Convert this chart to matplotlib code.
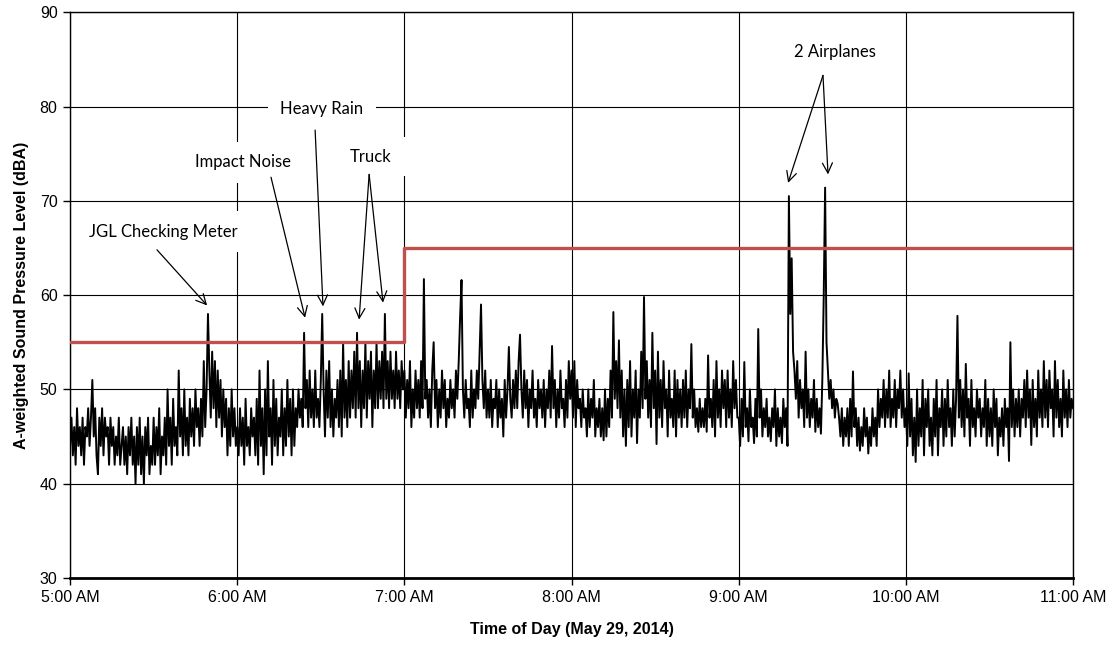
import numpy as np
import matplotlib
matplotlib.use("Agg")
import matplotlib.pyplot as plt
from matplotlib.patches import Rectangle
from matplotlib.ticker import FixedLocator

matplotlib.rcParams["font.family"] = ["Liberation Sans", "DejaVu Sans"]

# A-weighted level, 30-second readings, one list per hour
lvl_5am = [
    44, 47, 43, 46, 42, 48, 44, 46, 43, 47, 42, 46, 45, 48, 44, 47, 51, 45, 48, 43,
    41, 47, 44, 48, 43, 47, 45, 46, 42, 47, 44, 46, 42, 45, 43, 47, 42, 44, 46, 42,
    45, 41, 46, 43, 47, 42, 45, 40, 46, 42, 47, 41, 45, 40, 46, 43, 47, 41, 44, 42,
    47, 42, 46, 43, 48, 41, 45, 43, 47, 42, 50, 44, 47, 42, 49, 44, 46, 43, 52, 45,
    48, 43, 50, 44, 47, 43, 49, 45, 48, 44, 50, 46, 48, 44, 49, 45, 53, 46, 50, 58,
    52, 47, 54, 48, 53, 46, 52, 47, 51, 45, 50, 46, 49, 43, 48, 44, 50, 45, 48, 44,
]
lvl_6am = [
    46, 43, 48, 44, 47, 42, 49, 44, 46, 43, 48, 45, 47, 43, 49, 42, 52, 44, 48, 41,
    50, 43, 53, 45, 48, 42, 51, 44, 49, 43, 47, 45, 50, 43, 48, 44, 51, 45, 49, 43,
    50, 44, 48, 46, 50, 47, 49, 46, 56, 48, 51, 46, 52, 47, 50, 46, 52, 47, 49, 46,
    51, 58, 50, 45, 52, 47, 53, 46, 50, 45, 49, 47, 51, 46, 52, 45, 55, 47, 51, 46,
    53, 47, 52, 48, 54, 47, 56, 48, 53, 46, 52, 48, 55, 47, 53, 49, 54, 46, 52, 48,
    55, 48, 53, 49, 54, 48, 58, 49, 53, 48, 54, 49, 52, 48, 54, 49, 52, 48, 53, 50,
]
lvl_7am = [
    52, 47, 51, 48, 53, 46, 50, 47, 52, 48, 51, 47, 53, 48, 61.7, 49, 51, 47, 50, 46,
    52, 55, 48, 51, 46, 50, 47, 52, 48, 51, 46, 49, 47, 51, 48, 50, 47, 52, 49, 53,
    57.7, 61.6, 50, 47, 51, 48, 49, 46, 52, 47, 50, 48, 52, 49, 54, 59, 51, 48, 52, 47,
    50, 47, 51, 46, 49, 48, 51, 46, 50, 47, 49, 45, 51, 47, 50, 54.5, 49, 47, 51, 48,
    52, 48, 53, 55.8, 50, 47, 52, 48, 51, 46, 50, 48, 52, 47, 49, 46, 51, 48, 50, 47,
    51, 46, 50, 48, 52, 47, 54.6, 48, 51, 46, 50, 47, 52, 48, 49, 46, 51, 47, 53, 49,
]
lvl_8am = [
    52, 47, 53, 46, 51, 48, 49, 46, 50, 47, 48, 45, 50, 46, 49, 47, 51, 45, 48, 46,
    49, 45, 48, 44.6, 50, 45, 49, 46, 52, 47, 58.2, 49, 53, 48, 55.2, 47, 52, 45, 50, 44,
    51, 46, 53, 45, 50, 47, 52, 44.3, 50, 47, 54, 48, 59.8, 49, 53, 47, 51, 46, 56, 48,
    52, 44.2, 54, 47, 51, 46, 53, 48, 50, 45, 52, 47, 49, 46, 52, 45, 51, 47, 50, 46,
    51, 47, 52, 46, 50, 48, 54.8, 47, 50, 46, 48, 45.5, 49, 46, 48, 46, 49, 45.5, 53.6, 47,
    49, 46, 51, 45, 53, 47, 50, 46, 52, 48, 51, 46, 52, 47, 50, 46, 53, 48, 51, 47,
]
lvl_9am = [
    47, 44, 49, 45, 52.9, 46, 48, 44.5, 50, 46, 47, 44.3, 49, 45, 56.4, 47, 50, 45, 48, 46,
    49, 45, 47, 44.5, 48, 46, 50, 44, 48, 45, 47, 44.3, 49, 46, 48, 44, 70.5, 58, 63.9, 54,
    52, 49, 53, 47, 51, 48, 50, 46, 54, 47, 50, 46, 49, 47, 51, 45.5, 49, 46, 48, 45.3,
    51, 59.8, 71.4, 55, 52, 49, 51, 48, 50, 47, 49, 48.5, 47, 45, 48, 44, 47, 45, 48, 44,
    49, 45, 51.9, 46, 48, 44, 47, 43.5, 46, 44, 48, 45, 47, 43.2, 46, 44, 48, 45, 47, 44,
    50, 46, 49, 47, 51, 46, 50, 47, 52, 46, 49, 47, 51, 46, 50, 48, 52, 47, 50, 46,
]
lvl_10am = [
    48, 44, 51.7, 45, 49, 43, 47, 42.3, 50, 44, 48, 45, 51, 43, 49, 46, 50, 44, 47, 43,
    49, 45, 51, 43, 48, 46, 50, 44, 49, 45, 51, 46, 48, 44, 50, 45, 49, 57.8, 47, 51,
    46, 50, 45, 52.7, 47, 49, 44, 51, 46, 48, 45, 50, 47, 49, 45, 48, 46, 51, 44, 49,
    45, 48, 44, 50, 46, 49, 43, 47, 45, 48, 44, 49, 46, 48, 42.4, 55, 46, 50, 45, 49,
    46, 50, 45, 49, 47, 51, 46, 52, 47, 50, 44.1, 51, 46, 49, 45, 52, 47, 50, 46, 53,
    47, 51, 46, 52, 48, 50, 45, 53, 47, 51, 46, 49, 45, 52, 47, 50, 46, 51, 47, 49,
]
lvl_11am = [48]

# daytime noise limit (dBA)
limit_hours = [5, 7, 7, 11]
limit_levels = [55, 55, 65, 65]

hour_ticks = [5, 6, 7, 8, 9, 10, 11]
hour_labels = ["5:00 AM", "6:00 AM", "7:00 AM", "8:00 AM", "9:00 AM", "10:00 AM", "11:00 AM"]

level = np.concatenate([lvl_5am, lvl_6am, lvl_7am, lvl_8am, lvl_9am, lvl_10am, lvl_11am])
hours = 5 + np.arange(len(level)) / 120.0

fig = plt.figure(figsize=(11.12, 6.45), dpi=100)
ax = fig.add_axes([0.063, 0.104, 0.902, 0.877])

ax.plot(hours, level, color="black", lw=1.4, zorder=3)
ax.plot(limit_hours, limit_levels, color="#C0504D", lw=2.4, zorder=4)

ax.set_xlim(5, 11)
ax.set_ylim(30, 90)
ax.xaxis.set_major_locator(FixedLocator(hour_ticks))
ax.set_xticklabels(hour_labels)
ax.set_yticks(range(30, 91, 10))
ax.tick_params(axis="both", labelsize=11.5, length=5, width=1, direction="out", pad=4)
ax.grid(True, color="black", lw=0.8)
ax.set_axisbelow(True)
for side in ["left", "right", "top"]:
    ax.spines[side].set_linewidth(1.0)
ax.spines["bottom"].set_linewidth(2.0)

ax.set_xlabel("Time of Day (May 29, 2014)", fontsize=11.5, fontweight="bold", labelpad=12)
ax.set_ylabel("A-weighted Sound Pressure Level (dBA)", fontsize=11.5, fontweight="bold", labelpad=8)

note_font = dict(family=["Lato", "DejaVu Sans"], fontsize=12, ha="center", va="center",
                 zorder=6, bbox=dict(fc="white", ec="none", pad=9))
arrow = dict(arrowstyle="->", color="black", lw=0.9, mutation_scale=18, shrinkA=0, shrinkB=0)

ax.text(5.556, 66.7, "JGL Checking Meter", **note_font)
ax.annotate("", xy=(5.82, 58.9), xytext=(5.52, 64.8), arrowprops=arrow, zorder=7)

ax.text(6.035, 74.1, "Impact Noise", **note_font)
ax.annotate("", xy=(6.406, 57.6), xytext=(6.202, 72.5), arrowprops=arrow, zorder=7)

ax.text(6.507, 79.7, "Heavy Rain", **note_font)
ax.annotate("", xy=(6.513, 58.8), xytext=(6.466, 77.5), arrowprops=arrow, zorder=7)

# the truck label box is wider than its text and hides part of the 7:00 gridline
ax.add_patch(Rectangle((6.66, 72.6), 0.36, 4.2, fc="white", ec="none", zorder=5))
ax.text(6.795, 74.6, "Truck", **note_font)
ax.annotate("", xy=(6.729, 57.4), xytext=(6.789, 72.8), arrowprops=arrow, zorder=7)
ax.annotate("", xy=(6.872, 59.2), xytext=(6.789, 72.8), arrowprops=arrow, zorder=7)

ax.text(9.576, 85.8, "2 Airplanes", **note_font)
ax.annotate("", xy=(9.295, 71.9), xytext=(9.504, 83.3), arrowprops=arrow, zorder=7)
ax.annotate("", xy=(9.534, 72.8), xytext=(9.504, 83.3), arrowprops=arrow, zorder=7)

fig.savefig("out.png", dpi=100)
